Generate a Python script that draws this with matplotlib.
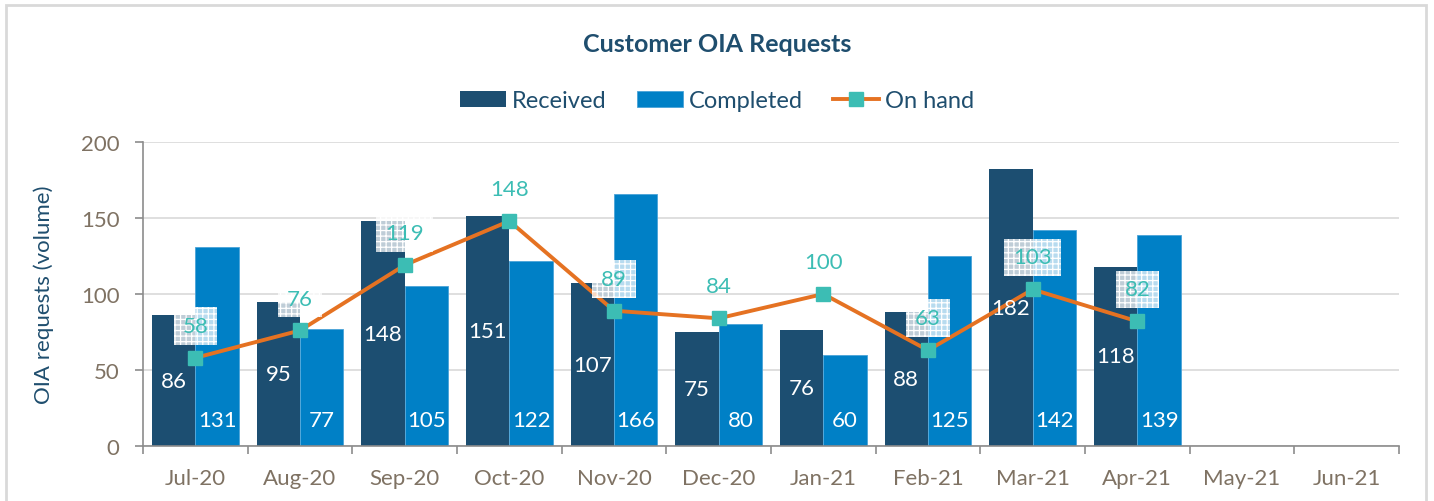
import matplotlib.pyplot as plt
from matplotlib.patches import Rectangle
import numpy as np

plt.rcParams['font.family'] = ['Lato', 'DejaVu Sans']
plt.rcParams['hatch.linewidth'] = 0.9

months = ['Jul-20', 'Aug-20', 'Sep-20', 'Oct-20', 'Nov-20', 'Dec-20',
          'Jan-21', 'Feb-21', 'Mar-21', 'Apr-21', 'May-21', 'Jun-21']
received = [86, 95, 148, 151, 107, 75, 76, 88, 182, 118]
completed = [131, 77, 105, 122, 166, 80, 60, 125, 142, 139]
on_hand = [58, 76, 119, 148, 89, 84, 100, 63, 103, 82]
# on-hand labels that sit over a bar get the patterned box
boxed = [True, True, True, False, True, False, False, True, True, True]

c_recv = '#1c4e71'
c_comp = '#0080c6'
c_line = '#e57222'
c_mark = '#3cbdb4'
c_tick = '#7f7263'
c_title = '#1f4e6e'

fig = plt.figure(figsize=(14.34, 5.02), dpi=100)
fig.patches.append(Rectangle((6/1434, -0.05), 1420/1434, 1.05 - 6/502,
                             transform=fig.transFigure, fill=False,
                             edgecolor='#d9d9d9', linewidth=2))
ax = fig.add_axes([143/1434, 1-447/502, 1256/1434, 304/502])

n = len(received)
x = np.arange(n)
w = 0.415
b1 = ax.bar(x - w/2, received, w, color=c_recv, zorder=2)
b2 = ax.bar(x + w/2, completed, w, color=c_comp, edgecolor='#4aa3d8',
            linewidth=0.6, zorder=2)
ax.plot(x, on_hand, color=c_line, lw=2.8, marker='s', markersize=10.5,
        markerfacecolor=c_mark, markeredgecolor=c_mark, zorder=4)

for xi, v in zip(x, received):
    ax.text(xi - w/2, v/2, str(v), color='white', fontsize=16,
            ha='center', va='center', zorder=5)
for xi, v in zip(x, completed):
    ax.text(xi + w/2, 17, str(v), color='white', fontsize=16,
            ha='center', va='center', zorder=5)
for xi, v, bx in zip(x, on_hand, boxed):
    kw = {}
    if bx:
        kw['bbox'] = dict(boxstyle='square,pad=0.4', facecolor=(1, 1, 1, 0.72),
                          edgecolor='white', hatch='+++', linewidth=0)
    ax.annotate(str(v), (xi, v), xytext=(0, 23), textcoords='offset points',
                color=c_mark, fontsize=16, ha='center', va='center',
                zorder=6, **kw)

ax.set_xlim(-0.5, len(months) - 0.5)
ax.set_ylim(0, 200)
ax.set_yticks([0, 50, 100, 150, 200])
ax.set_xticks(np.arange(len(months)))
ax.set_xticklabels(months)
ax.set_xticks(np.arange(len(months) + 1) - 0.5, minor=True)
ax.tick_params(axis='x', which='major', length=0, pad=16, labelsize=16,
               labelcolor=c_tick)
ax.tick_params(axis='x', which='minor', length=6, color='#8c8c8c', width=1.2)
ax.tick_params(axis='y', length=6, color='#8c8c8c', width=1.2, labelsize=16,
               labelcolor=c_tick, pad=11)
ax.grid(axis='y', color='#d9d9d9', lw=1.2, zorder=0)
ax.set_axisbelow(True)
for s in ['top', 'right']:
    ax.spines[s].set_visible(False)
for s in ['left', 'bottom']:
    ax.spines[s].set_color('#8c8c8c')
    ax.spines[s].set_linewidth(1.2)

ax.set_ylabel('OIA requests (volume)', color=c_title, fontsize=16, labelpad=19)

fig.text(0.5, 1-44/502, 'Customer OIA Requests', ha='center', va='center',
         fontsize=18, fontweight='bold', color=c_title)

handles = [b1, b2, ax.lines[0]]
leg = fig.legend(handles, ['Received', 'Completed', 'On hand'],
                 loc='center', bbox_to_anchor=(0.5, 1-102/502), ncol=3,
                 frameon=False, fontsize=17, handlelength=1.95, handleheight=0.64,
                 columnspacing=1.3, handletextpad=0.25)
for t in leg.get_texts():
    t.set_color(c_title)

fig.savefig('out.png', dpi=100)
